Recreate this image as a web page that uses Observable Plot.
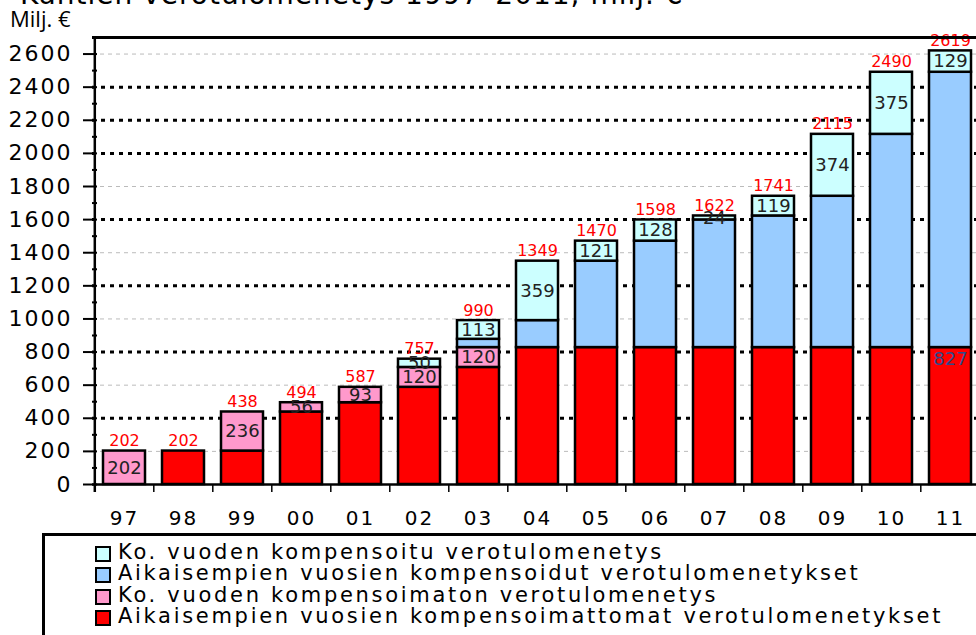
<!DOCTYPE html>
<html><head><meta charset="utf-8">
<script src="https://cdn.jsdelivr.net/npm/d3@7"></script>
<script src="https://cdn.jsdelivr.net/npm/@observablehq/plot@0.6"></script>
<style>
body{margin:0;background:#fff;overflow:hidden}
#wrap{position:relative;width:976px;height:635px;overflow:hidden;font-family:"DejaVu Sans",sans-serif;background:#fff}
#chart{position:absolute;left:0;top:0}
#title{position:absolute;left:20px;top:-20px;font-size:28px;line-height:30px;white-space:nowrap;letter-spacing:1px}
#unit{position:absolute;left:10px;top:3px;font-family:"Open Sans",sans-serif;font-size:22px;line-height:30px}
#legend{position:absolute;left:42px;top:533px;width:1000px;height:200px;border:3px solid #000;box-sizing:border-box;background:#fff}
.item{position:absolute;left:50px;height:21px;white-space:nowrap;font-size:21px;letter-spacing:2.7px;line-height:21px;color:#000}
.sw{position:absolute;left:0;top:4px;width:12px;height:12px;border:2px solid #000}
.lt{position:absolute;left:23px;top:0}
</style>
</head><body>
<div id="wrap">
  <div id="chart"></div>
  <div id="title">Kuntien verotulomenetys 1997–2011, milj. €</div>
  <div id="unit">Milj. €</div>
  <div id="legend"></div>
</div>
<script>
// ---- data ----
const years = ["97","98","99","00","01","02","03","04","05","06","07","08","09","10","11"];
const prevUncomp = [0,202,202,438,494,587,707,827,827,827,827,827,827,827,827];   // red
const curUncomp  = [202,0,236,56,93,120,120,0,0,0,0,0,0,0,0];                    // pink
const prevComp   = [0,0,0,0,0,0,50,163,522,643,771,795,914,1288,1663];            // blue
const curComp    = [0,0,0,0,0,50,113,359,121,128,24,119,374,375,129];             // cyan
const totals     = [202,202,438,494,587,757,990,1349,1470,1598,1622,1741,2115,2490,2619];
const seriesNames = [
  "Aikaisempien vuosien kompensoimattomat verotulomenetykset",
  "Ko. vuoden kompensoimaton verotulomenetys",
  "Aikaisempien vuosien kompensoidut verotulomenetykset",
  "Ko. vuoden kompensoitu verotulomenetys"
];
const seriesColors = ["#ff0000","#ff99cc","#99ccff","#ccffff"];
const legendOrder = [3,2,1,0];
const yTicks = [0,200,400,600,800,1000,1200,1400,1600,1800,2000,2200,2400,2600];
const yMinorTicks = [100,300,500,700,900,1100,1300,1500,1700,1900,2100,2300,2500];
const thickGrid = [400,800,1200,1600,2000,2200,2400];
const thinGrid = [200,600,1000,1400,1800,2600];
const yMax = 2700;
const labeledSeries = [1,3];
const baseLabelYears = ["11"];

// ---- table ----
const series = [prevUncomp, curUncomp, prevComp, curComp];
const table = [];
years.forEach((yr,i) => series.forEach((arr,s) => table.push({year: yr, s, series: seriesNames[s], value: arr[i]})));
const bars = table.filter(d => d.value > 0);

const W = 976, H = 530, xr = [92, 983];
const bandStep = (xr[1]-xr[0]) / years.length;

const chart = Plot.plot({
  width: W, height: H,
  marginLeft: 92, marginRight: 0, marginTop: 37, marginBottom: 46,
  style: {fontFamily: "DejaVu Sans, sans-serif", background: "transparent", overflow: "visible"},
  x: {domain: years, range: xr, paddingInner: 0.28, paddingOuter: 0.14, label: null},
  y: {domain: [0, yMax], label: null},
  color: {domain: seriesNames, range: seriesColors},
  marks: [
    Plot.ruleY(thinGrid, {stroke: "#bbb", strokeWidth: 1, strokeDasharray: "4,4"}),
    Plot.ruleY(thickGrid, {stroke: "#000", strokeWidth: 3, strokeDasharray: "4,5"}),
    Plot.barY(bars, {x: "year", y: "value", fill: "series", stroke: "#000", strokeWidth: 2.5}),
    Plot.text(bars, Plot.stackY({x: "year", y: "value",
      text: d => labeledSeries.includes(d.s) ? String(d.value) : "",
      fontSize: 18, fill: "#222", ariaLabel: "seglabel"})),
    Plot.text(bars, Plot.stackY2({x: "year", y: "value",
      text: d => (d.s === 0 && baseLabelYears.includes(d.year)) ? String(d.value) : "",
      fontSize: 18, fill: "#2e4a8c", lineAnchor: "top", dy: 5, ariaLabel: "seglabel"})),
    Plot.text(years, {x: d => d, y: (d,i) => totals[i], text: (d,i) => String(totals[i]),
      fontSize: 16, fill: "#ff0000", lineAnchor: "bottom", dy: -5, ariaLabel: "totlabel"}),
    Plot.ruleY([0], {stroke: "#000", strokeWidth: 2.5}),
    Plot.ruleY([yMax], {stroke: "#000", strokeWidth: 3}),
    Plot.ruleX([years[0]], {x: d => d, dx: -bandStep/2, stroke: "#000", strokeWidth: 2.5, insetBottom: -8}),
    Plot.ruleX(years.slice(1), {x: d => d, dx: -bandStep/2, stroke: "#000", strokeWidth: 1.5, insetTop: 439, dy: 8}),
    Plot.tickY(yTicks, {y: d => d, stroke: "#000", strokeWidth: 2, dx: -9, insetRight: (W-92) - 14}),
    Plot.tickY(yMinorTicks, {y: d => d, stroke: "#000", strokeWidth: 2, insetRight: (W-92) - 5}),
    Plot.axisY({ticks: yTicks, tickSize: 0, tickPadding: 20, fontSize: 22, tickFormat: d => String(d)}),
    Plot.axisX({tickSize: 0, tickPadding: 26, fontSize: 20})
  ]
});
document.getElementById("chart").appendChild(chart);
d3.select(chart).selectAll('g[aria-label="seglabel"] text').style("letter-spacing", "2px");
d3.select(chart).selectAll('g[aria-label="totlabel"] text').style("letter-spacing", "0.5px");
d3.select(chart).selectAll('g[aria-label="y-axis tick label"] text').style("letter-spacing", "2px");
d3.select(chart).selectAll('g[aria-label="x-axis tick label"] text').style("letter-spacing", "2px");

// legend
const leg = document.getElementById("legend");
legendOrder.forEach((s, k) => {
  const it = document.createElement("div");
  it.className = "item";
  it.style.top = (6 + k*21.3) + "px";
  const sw = document.createElement("div");
  sw.className = "sw"; sw.style.background = seriesColors[s];
  const t = document.createElement("div");
  t.className = "lt"; t.textContent = seriesNames[s];
  it.appendChild(sw); it.appendChild(t);
  leg.appendChild(it);
});
</script>
</body></html>
